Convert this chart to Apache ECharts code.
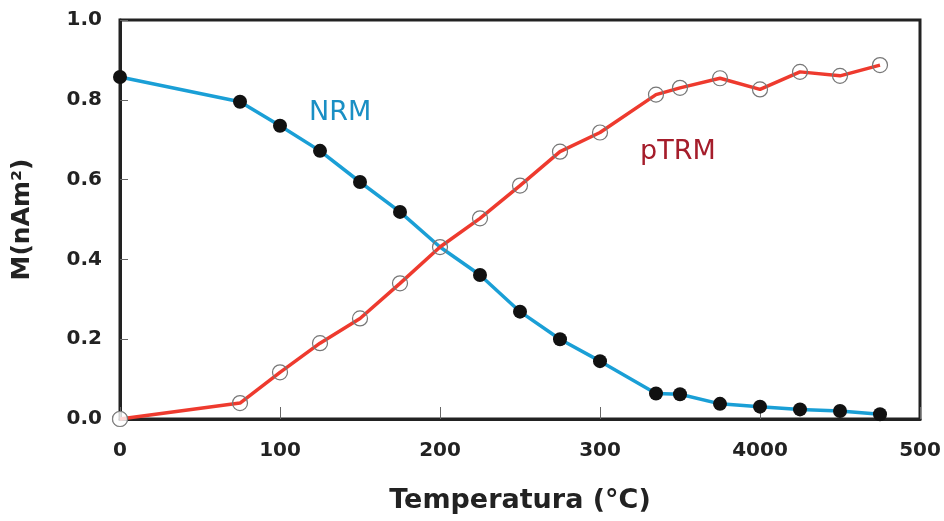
<!DOCTYPE html>
<html>
<head>
  <meta charset="UTF-8">
  <script src="https://cdn.jsdelivr.net/npm/echarts@6/dist/echarts.min.js"></script>
  <style>
    html, body { margin: 0; padding: 0; background: #fff; }
    #chart { width: 944px; height: 521px; }
  </style>
</head>
<body>
<div id="chart"></div>
<script type="text/javascript">
  // temperatures (°C) of the heating steps
  var temps = [0, 75, 100, 125, 150, 175, 200, 225, 250, 275, 300, 335, 350, 375, 400, 425, 450, 475];
  // remaining NRM and acquired pTRM, nAm^2
  var nrm  = [0.857, 0.795, 0.735, 0.672, 0.594, 0.519, 0.431, 0.361, 0.269, 0.200, 0.145, 0.064, 0.062, 0.038, 0.031, 0.024, 0.020, 0.012];
  var ptrm = [0.000, 0.040, 0.117, 0.190, 0.252, 0.340, 0.431, 0.503, 0.585, 0.670, 0.718, 0.813, 0.830, 0.854, 0.826, 0.870, 0.860, 0.887];
  // tick labels as printed (including the "4000" of the original)
  var xTickLabels = ['0', '100', '200', '300', '4000', '500'];
  var yTickLabels = ['0.0', '0.2', '0.4', '0.6', '0.8', '1.0'];

  var font = 'DejaVu Sans';
  var myChart = echarts.init(document.getElementById('chart'));

  // at the crossing (200 °C) only the open pTRM circle is drawn
  var nrmData = temps.map(function (t, i) {
    if (t === 200) return { value: [t, nrm[i]], symbol: 'none' };
    return [t, nrm[i]];
  });
  var ptrmData = temps.map(function (t, i) { return [t, ptrm[i]]; });

  var option = {
    backgroundColor: '#fff',
    animation: false,
    grid: {
      left: 120, right: 24, top: 20, bottom: 102,
      show: true, borderColor: '#222', borderWidth: 3
    },
    xAxis: {
      type: 'value', min: 0, max: 500, interval: 100,
      name: 'Temperatura (°C)', nameLocation: 'middle', nameGap: 68,
      nameTextStyle: { fontFamily: font, fontWeight: 'bold', fontSize: 27, color: '#222' },
      axisLine: { show: true, lineStyle: { color: '#222', width: 3 } },
      axisTick: { show: true, inside: true, length: 12, lineStyle: { color: '#666', width: 1 } },
      splitLine: { show: false },
      axisLabel: {
        margin: 22, fontFamily: font, fontWeight: 'bold', fontSize: 20, color: '#222',
        formatter: function (v) { return xTickLabels[Math.round(v / 100)]; }
      }
    },
    yAxis: {
      type: 'value', min: 0, max: 1, interval: 0.2,
      name: 'M(nAm²)', nameLocation: 'middle', nameGap: 85, nameRotate: 90,
      nameTextStyle: { fontFamily: font, fontWeight: 'bold', fontSize: 25, color: '#222' },
      axisLine: { show: true, lineStyle: { color: '#222', width: 3 } },
      axisTick: { show: true, inside: true, length: 8, lineStyle: { color: '#666', width: 1 } },
      splitLine: { show: false },
      axisLabel: {
        margin: 18, fontFamily: font, fontWeight: 'bold', fontSize: 20, color: '#222',
        formatter: function (v) { return yTickLabels[Math.round(v * 5)]; }
      }
    },
    series: [
      {
        name: 'NRM', type: 'line', data: nrmData, clip: false,
        symbol: 'circle', symbolSize: 14,
        lineStyle: { color: '#1a9fd6', width: 3.5 },
        itemStyle: { color: '#111', borderColor: '#111', borderWidth: 0 },
        z: 3
      },
      {
        name: 'pTRM', type: 'line', data: ptrmData, clip: false,
        symbol: 'circle', symbolSize: 15,
        lineStyle: { color: '#ee3a2e', width: 3.5 },
        itemStyle: { color: 'rgba(255,255,255,0)', borderColor: '#777', borderWidth: 1.2 },
        z: 4
      },
      {
        // white origin point sits over the axes
        type: 'scatter', data: [ptrmData[0]], clip: false,
        symbol: 'circle', symbolSize: 15,
        itemStyle: { color: '#fff', borderColor: '#777', borderWidth: 1.2 },
        z: 5
      }
    ],
    graphic: [
      { type: 'text', left: 309, top: 99,
        style: { text: 'NRM', fill: '#1a8fc4', font: '27px "DejaVu Sans"' } },
      { type: 'text', left: 640, top: 138,
        style: { text: 'pTRM', fill: '#a51d2b', font: '27px "DejaVu Sans"' } }
    ]
  };
  myChart.setOption(option);
</script>
</body>
</html>
